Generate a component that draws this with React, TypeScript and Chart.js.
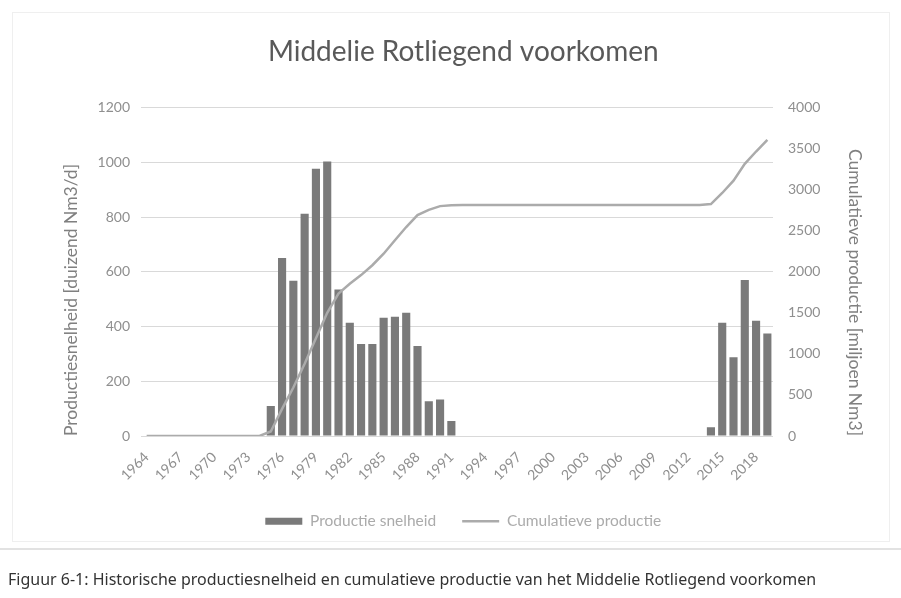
import React, { useEffect, useRef } from "react";
import { Chart, registerables } from "chart.js";

Chart.register(...registerables);

const years = [
  "1964", "1965", "1966", "1967", "1968", "1969", "1970", "1971", "1972", "1973",
  "1974", "1975", "1976", "1977", "1978", "1979", "1980", "1981", "1982", "1983",
  "1984", "1985", "1986", "1987", "1988", "1989", "1990", "1991", "1992", "1993",
  "1994", "1995", "1996", "1997", "1998", "1999", "2000", "2001", "2002", "2003",
  "2004", "2005", "2006", "2007", "2008", "2009", "2010", "2011", "2012", "2013",
  "2014", "2015", "2016", "2017", "2018", "2019",
];

// Productie snelheid [duizend Nm3/d]
const productieSnelheid = [
  0, 0, 0, 0, 0, 0, 0, 0, 0, 0,
  0, 110, 650, 567, 812, 977, 1003, 535, 414, 336,
  336, 432, 436, 450, 329, 127, 133, 55, 0, 0,
  0, 0, 0, 0, 0, 0, 0, 0, 0, 0,
  0, 0, 0, 0, 0, 0, 0, 0, 0, 0,
  32, 414, 288, 570, 421, 375,
];

// Cumulatieve productie [miljoen Nm3]
const cumulatieveProductie = [
  0, 0, 0, 0, 0, 0, 0, 0, 0, 0,
  0, 55, 330, 590, 880, 1190, 1500, 1735, 1855, 1960,
  2080, 2220, 2385, 2545, 2690, 2755, 2800, 2812, 2815, 2815,
  2815, 2815, 2815, 2815, 2815, 2815, 2815, 2815, 2815, 2815,
  2815, 2815, 2815, 2815, 2815, 2815, 2815, 2815, 2815, 2815,
  2825, 2960, 3110, 3315, 3465, 3608,
];

const xTickLabels = [
  "1964", "1967", "1970", "1973", "1976", "1979", "1982", "1985", "1988",
  "1991", "1994", "1997", "2000", "2003", "2006", "2009", "2012", "2015", "2018",
];

const titleText = "Middelie Rotliegend voorkomen";
const leftTitle = "Productiesnelheid [duizend Nm3/d]";
const rightTitle = "Cumulatieve productie [miljoen Nm3]";
const captionText =
  "Figuur 6-1: Historische productiesnelheid en cumulatieve productie van het Middelie Rotliegend voorkomen";

const tickColor = "#8f8f8f";
const tickFont = { family: "Lato", size: 14 };

export default function App() {
  const ref = useRef<HTMLCanvasElement>(null);

  useEffect(() => {
    if (!ref.current) return;
    const chart = new Chart(ref.current, {
      data: {
        labels: years,
        datasets: [
          {
            type: "bar",
            label: "Productie snelheid",
            data: productieSnelheid,
            backgroundColor: "#7a7a7a",
            borderWidth: 0,
            yAxisID: "y",
            order: 1,
            barPercentage: 0.72,
            categoryPercentage: 1,
            pointStyle: "rect",
          } as any,
          {
            type: "line",
            label: "Cumulatieve productie",
            data: cumulatieveProductie,
            borderColor: "#ababab",
            backgroundColor: "#ababab",
            borderWidth: 2.5,
            pointRadius: 0,
            pointStyle: "line",
            tension: 0,
            yAxisID: "y1",
            order: 0,
          } as any,
        ],
      },
      options: {
        responsive: false,
        animation: false,
        layout: { padding: { left: 61, right: 35.5, top: 0, bottom: 59 } },
        plugins: {
          title: {
            display: true,
            text: titleText,
            color: "#595959",
            font: { family: "Lato", size: 28, weight: "normal" },
            padding: { top: 35, bottom: 39 },
          },
          legend: {
            position: "bottom",
            labels: {
              usePointStyle: true,
              pointStyleWidth: 37,
              boxHeight: 7,
              padding: 26,
              color: "#ababab",
              font: { family: "Lato", size: 15.5 },
              sort: (a: any, b: any) => a.datasetIndex - b.datasetIndex,
            },
          },
          tooltip: { enabled: false },
        },
        scales: {
          x: {
            grid: { display: false, drawTicks: false },
            border: { display: false },
            ticks: {
              autoSkip: false,
              maxRotation: 45,
              minRotation: 45,
              padding: 13,
              color: tickColor,
              font: tickFont,
              callback: (_v: any, i: number) =>
                xTickLabels.includes(years[i]) ? years[i] : "",
            },
            afterFit: (s: any) => {
              s.height = 51.5;
            },
          },
          y: {
            position: "left",
            min: 0,
            max: 1200,
            ticks: {
              stepSize: 200,
              padding: 11,
              color: tickColor,
              font: tickFont,
              callback: (v: any) => String(v),
            },
            grid: { color: "#d9d9d9", drawTicks: false },
            border: { display: false },
            title: {
              display: true,
              text: leftTitle,
              align: "start",
              color: "#808080",
              font: { family: "Lato", size: 17.5 },
              padding: 0,
            },
            afterFit: (s: any) => {
              s.width = 80;
            },
          },
          y1: {
            position: "right",
            min: 0,
            max: 4000,
            ticks: {
              stepSize: 500,
              padding: 15,
              color: tickColor,
              font: tickFont,
              callback: (v: any) => String(v),
            },
            grid: { drawOnChartArea: false, drawTicks: false },
            border: { display: false },
            title: {
              display: true,
              text: rightTitle,
              align: "start",
              color: "#808080",
              font: { family: "Lato", size: 17.5 },
              padding: 0,
            },
            afterFit: (s: any) => {
              s.width = 92.5;
            },
          },
        },
      } as any,
    });
    return () => chart.destroy();
  }, []);

  return (
    <div
      style={{
        position: "absolute",
        left: 0,
        top: 0,
        width: 901,
        height: 598,
        background: "#ffffff",
        overflow: "hidden",
      }}
    >
      <div
        style={{
          position: "absolute",
          left: 12,
          top: 12,
          width: 878,
          height: 530,
          border: "1px solid #efefef",
          boxSizing: "border-box",
        }}
      />
      <canvas
        ref={ref}
        width={901}
        height={598}
        style={{ position: "absolute", left: 0, top: 0, display: "block" }}
      />
      <div
        style={{
          position: "absolute",
          left: 0,
          top: 548,
          width: 901,
          height: 2,
          background: "#e2e2e2",
        }}
      />
      <div
        style={{
          position: "absolute",
          left: 8,
          top: 569,
          fontFamily: "'Noto Sans', sans-serif",
          fontSize: 16,
          color: "#333333",
          whiteSpace: "nowrap",
          lineHeight: "20px",
        }}
      >
        {captionText}
      </div>
    </div>
  );
}
